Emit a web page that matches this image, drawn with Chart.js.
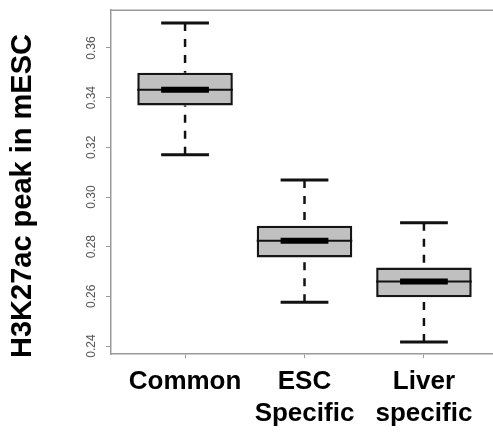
<!DOCTYPE html>
<html>
<head>
<meta charset="utf-8">
<script src="https://cdn.jsdelivr.net/npm/chart.js@4"></script>
<style>
  html, body { margin: 0; padding: 0; background: #fff; overflow: hidden; }
  #wrap { width: 500px; height: 432px; }
</style>
</head>
<body>
<div id="wrap"><canvas id="boxChart" width="500" height="432"></canvas></div>
<script>
// data
const categories = [["Common"], ["ESC", "Specific"], ["Liver", "specific"]];
const whiskerLow = [0.317, 0.2576, 0.2416];
const q1 = [0.3368, 0.2756, 0.2596];
const median = [0.3432, 0.2824, 0.266];
const q3 = [0.350, 0.2884, 0.2716];
const whiskerHigh = [0.370, 0.3068, 0.2896];
const yTicks = [0.24, 0.26, 0.28, 0.30, 0.32, 0.34, 0.36];
const yTitle = "H3K27ac peak in mESC";

const axisGray = "#9a9a9a";

// whiskers, medians, top frame line and y title
const boxExtras = {
    id: "boxExtras",
    afterDatasetsDraw(chart) {
        const ctx = chart.ctx;
        const xs = chart.scales.x;
        const ys = chart.scales.y;
        ctx.save();
        ctx.strokeStyle = "#111";
        for (let i = 0; i < categories.length; i++) {
            let cx = xs.getPixelForValue(i + 1);
            let capHalf = xs.getPixelForValue(i + 1.2) - cx;
            let boxHalf = xs.getPixelForValue(i + 1.4) - cx;

            // dashed whiskers, drawn from the cap toward the box
            ctx.lineWidth = 2.5;
            ctx.setLineDash([8, 8]);
            ctx.beginPath();
            ctx.moveTo(cx, ys.getPixelForValue(whiskerHigh[i]));
            ctx.lineTo(cx, ys.getPixelForValue(q3[i]));
            ctx.moveTo(cx, ys.getPixelForValue(whiskerLow[i]));
            ctx.lineTo(cx, ys.getPixelForValue(q1[i]));
            ctx.stroke();
            ctx.setLineDash([]);

            // caps
            ctx.lineWidth = 3;
            ctx.beginPath();
            [whiskerHigh[i], whiskerLow[i]].forEach(v => {
                let y = ys.getPixelForValue(v);
                ctx.moveTo(cx - capHalf, y);
                ctx.lineTo(cx + capHalf, y);
            });
            ctx.stroke();

            // median: thin line across box, thick band in the middle
            let my = ys.getPixelForValue(median[i]);
            ctx.lineWidth = 2;
            ctx.beginPath();
            ctx.moveTo(cx - boxHalf, my);
            ctx.lineTo(cx + boxHalf, my);
            ctx.stroke();
            ctx.lineWidth = 6;
            ctx.strokeStyle = "#000";
            ctx.beginPath();
            ctx.moveTo(cx - capHalf, my);
            ctx.lineTo(cx + capHalf, my);
            ctx.stroke();
            ctx.strokeStyle = "#111";
        }

        // top frame line
        const area = chart.chartArea;
        ctx.strokeStyle = axisGray;
        ctx.lineWidth = 1.5;
        ctx.beginPath();
        ctx.moveTo(area.left, area.top);
        ctx.lineTo(area.right + 5, area.top);
        ctx.stroke();

        // y axis title
        ctx.fillStyle = "#000";
        ctx.font = "bold 29px 'Liberation Sans', Arial, sans-serif";
        ctx.textAlign = "center";
        ctx.textBaseline = "middle";
        ctx.translate(23, 196);
        ctx.rotate(-Math.PI / 2);
        ctx.fillText(yTitle, 0, 0);
        ctx.restore();
    }
};

const ctx = document.getElementById("boxChart").getContext("2d");

let chart = new Chart(ctx, {
    type: "bar",
    data: {
        datasets: [{
            data: categories.map((c, i) => ({ x: i + 1, y: [q1[i], q3[i]] })),
            backgroundColor: "#c0c0c0",
            borderColor: "#151515",
            borderWidth: 2.5,
            borderSkipped: false,
            categoryPercentage: 1,
            barPercentage: 0.8
        }]
    },
    options: {
        responsive: false,
        animation: false,
        layout: { padding: { top: 8, right: 2, left: 0, bottom: 0 } },
        plugins: { legend: { display: false }, tooltip: { enabled: false } },
        scales: {
            x: {
                type: "linear",
                offset: false,
                min: 0.38,
                max: 3.62,
                afterBuildTicks: scale => { scale.ticks = categories.map((c, i) => ({ value: i + 1 })); },
                afterFit: scale => { scale.height = 78; },
                grid: { display: true, offset: false, drawOnChartArea: false, color: axisGray, tickLength: 4 },
                border: { color: axisGray, width: 1.5 },
                ticks: {
                    callback: v => categories[v - 1],
                    color: "#000",
                    padding: 8,
                    maxRotation: 0,
                    autoSkip: false,
                    font: { family: "'Liberation Sans', Arial, sans-serif", size: 26, weight: "bold", lineHeight: 1.23 }
                }
            },
            y: {
                min: 0.2368,
                max: 0.3752,
                afterBuildTicks: scale => { scale.ticks = yTicks.map(v => ({ value: v })); },
                afterFit: scale => { scale.width = 111; },
                grid: { display: true, drawOnChartArea: false, color: axisGray, tickLength: 5 },
                border: { color: axisGray, width: 1.5 },
                ticks: {
                    callback: v => v.toFixed(2),
                    color: "#555",
                    padding: 3,
                    minRotation: 90,
                    maxRotation: 90,
                    crossAlign: "center",
                    font: { family: "'Liberation Sans', Arial, sans-serif", size: 12 }
                }
            }
        }
    },
    plugins: [boxExtras]
});
</script>
</body>
</html>
